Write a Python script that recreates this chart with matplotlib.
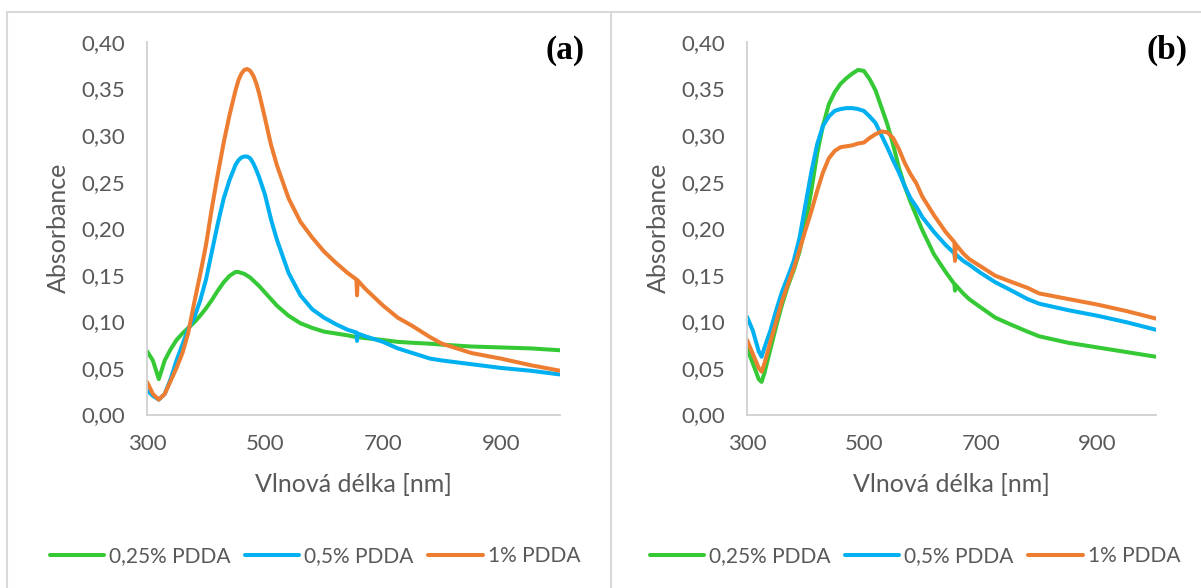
import numpy as np
import matplotlib
matplotlib.use('Agg')
import matplotlib.pyplot as plt
from matplotlib.ticker import FuncFormatter

plt.rcParams['font.family'] = ['Lato', 'DejaVu Sans']

labels = ['0,25% PDDA', '0,5% PDDA', '1% PDDA']
colors = ['#36C936', '#00B0F0', '#ED7D31']

# panel (a)
wl_a = [300, 310, 320, 330, 340, 350, 360, 370, 380, 390, 400, 410, 420, 430, 440,
        450, 455, 460, 465, 470, 475, 480, 485, 490, 500, 510, 520, 540, 560, 580, 600,
        620, 640, 655, 656, 657, 670, 700, 725, 750, 780, 800, 850, 900, 950, 1000]
green_a = [0.068, 0.058, 0.038, 0.058, 0.070, 0.080, 0.087, 0.093, 0.099, 0.106, 0.114,
           0.123, 0.133, 0.142, 0.149, 0.153, 0.153, 0.152, 0.151, 0.149, 0.147, 0.144,
           0.141, 0.138, 0.131, 0.124, 0.117, 0.106, 0.098, 0.093, 0.089, 0.087, 0.085,
           0.083, 0.083, 0.083, 0.082, 0.080, 0.078, 0.077, 0.076, 0.075, 0.073, 0.072,
           0.071, 0.069]
blue_a = [0.026, 0.020, 0.016, 0.022, 0.038, 0.058, 0.075, 0.092, 0.104, 0.122, 0.145,
          0.175, 0.205, 0.232, 0.252, 0.268, 0.273, 0.276, 0.277, 0.277, 0.275, 0.270,
          0.263, 0.255, 0.236, 0.210, 0.188, 0.152, 0.128, 0.113, 0.104, 0.097, 0.091,
          0.088, 0.079, 0.087, 0.084, 0.078, 0.071, 0.066, 0.060, 0.058, 0.054, 0.050,
          0.047, 0.043]
orange_a = [0.035, 0.022, 0.016, 0.022, 0.036, 0.050, 0.066, 0.088, 0.120, 0.150, 0.182,
            0.222, 0.258, 0.292, 0.322, 0.348, 0.359, 0.366, 0.370, 0.371, 0.369, 0.364,
            0.356, 0.345, 0.318, 0.290, 0.268, 0.232, 0.207, 0.190, 0.175, 0.163, 0.152,
            0.145, 0.128, 0.144, 0.135, 0.117, 0.104, 0.095, 0.083, 0.076, 0.066, 0.060,
            0.053, 0.047]

# panel (b)
wl_b = [300, 310, 320, 325, 330, 340, 350, 360, 370, 380, 390, 400, 410, 420, 430, 440,
        450, 460, 470, 480, 490, 500, 510, 520, 530, 540, 550, 560, 570, 580, 590, 600,
        620, 640, 655, 656, 657, 670, 680, 700, 725, 750, 780, 800, 850, 900, 950, 1000]
green_b = [0.071, 0.055, 0.038, 0.035, 0.045, 0.070, 0.095, 0.118, 0.138, 0.155, 0.175,
           0.205, 0.240, 0.280, 0.310, 0.333, 0.346, 0.355, 0.361, 0.366, 0.370, 0.369,
           0.360, 0.348, 0.330, 0.312, 0.290, 0.265, 0.245, 0.228, 0.213, 0.198, 0.172,
           0.153, 0.140, 0.133, 0.139, 0.130, 0.124, 0.115, 0.104, 0.097, 0.089, 0.084,
           0.077, 0.072, 0.067, 0.062]
blue_b = [0.105, 0.090, 0.068, 0.062, 0.072, 0.090, 0.112, 0.132, 0.148, 0.165, 0.190,
          0.225, 0.260, 0.290, 0.310, 0.320, 0.326, 0.328, 0.329, 0.329, 0.328, 0.326,
          0.320, 0.313, 0.300, 0.287, 0.273, 0.260, 0.245, 0.232, 0.223, 0.212, 0.196,
          0.182, 0.173, 0.168, 0.172, 0.165, 0.161, 0.152, 0.142, 0.134, 0.124, 0.119,
          0.112, 0.106, 0.099, 0.091]
orange_b = [0.080, 0.065, 0.050, 0.046, 0.055, 0.078, 0.100, 0.122, 0.140, 0.157, 0.177,
            0.198, 0.218, 0.240, 0.260, 0.275, 0.283, 0.287, 0.288, 0.289, 0.291, 0.292,
            0.297, 0.301, 0.304, 0.303, 0.297, 0.285, 0.270, 0.258, 0.248, 0.234, 0.214,
            0.196, 0.185, 0.165, 0.183, 0.173, 0.167, 0.159, 0.149, 0.143, 0.136, 0.130,
            0.124, 0.118, 0.111, 0.103]

panels = [
    ('(a)', wl_a, [green_a, blue_a, orange_a]),
    ('(b)', wl_b, [green_b, blue_b, orange_b]),
]

W, H = 1201, 588
fig = plt.figure(figsize=(W / 100, H / 100), dpi=100)
txt = '#595959'
axcol = '#D0D0D0'

# panel frames
fig.add_artist(plt.Rectangle((7 / W, -0.1), (611 - 7) / W, (588 - 12) / H + 0.1,
                             transform=fig.transFigure, fill=False, ec='#D9D9D9', lw=1.5))
fig.add_artist(plt.Rectangle((611 / W, -0.1), (1300 - 611) / W, (588 - 12) / H + 0.1,
                             transform=fig.transFigure, fill=False, ec='#D9D9D9', lw=1.5))

axleft = [147, 747]
axright = [560, 1156]
legx = [315, 915]
tagx = [585, 1188]
for k, (tag, wl, series) in enumerate(panels):
    ax = fig.add_axes([axleft[k] / W, (588 - 414.5) / H,
                       (axright[k] - axleft[k]) / W, 372.5 / H])
    for y, c, lab in zip(series, colors, labels):
        ax.plot(wl, y, color=c, lw=2.9, label=lab, solid_capstyle='round',
                solid_joinstyle='round')
    ax.set_xlim(300, 1000)
    ax.set_ylim(0, 0.40)
    ax.set_xticks([300, 500, 700, 900])
    ax.set_yticks(np.arange(0, 0.41, 0.05))
    ax.yaxis.set_major_formatter(FuncFormatter(lambda v, p: ('%.2f' % v).replace('.', ',')))
    for s in ['top', 'right']:
        ax.spines[s].set_visible(False)
    for s in ['left', 'bottom']:
        ax.spines[s].set_color(axcol)
        ax.spines[s].set_linewidth(1.3)
    ax.tick_params(length=0, labelsize=16, colors=txt)
    ax.tick_params(axis='y', pad=16)
    ax.tick_params(axis='x', pad=14)
    ax.set_xlabel('Vlnová délka [nm]', fontsize=18, color=txt, labelpad=14)
    ax.set_ylabel('Absorbance', fontsize=18, color=txt, labelpad=8)
    fig.text(tagx[k] / W, (588 - 50) / H, tag, ha='right', va='center',
             fontsize=24, fontweight='bold', family='Liberation Serif', color='black')
    fig.legend(loc='center', bbox_to_anchor=(legx[k] / W, (588 - 556) / H), ncol=3,
               frameon=False, fontsize=15, handlelength=2.6, handletextpad=0.25,
               columnspacing=0.7, labelcolor=txt,
               handles=ax.get_lines())

fig.savefig('out.png', dpi=100)
